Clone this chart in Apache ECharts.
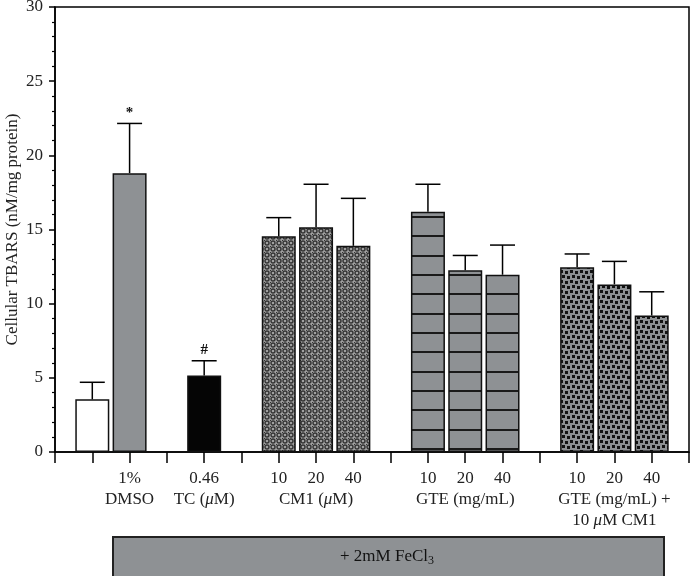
<!DOCTYPE html>
<html>
<head>
<meta charset="utf-8">
<script src="https://cdn.jsdelivr.net/npm/echarts@6/dist/echarts.min.js"></script>
<style>
html,body{margin:0;padding:0;background:#fff;}
#chart{width:690px;height:576px;}
</style>
</head>
<body>
<div id="chart"></div>
<script>
// ---- data ----
const categories = ['', '', '1%\nDMSO', '', '0.46\nTC (μM)', '', '10', '20\nCM1 (μM)', '40', '',
  '10', '20\nGTE (mg/mL)', '40', '', '10', '20\nGTE (mg/mL) +\n10 μM CM1', '40', ''];
const groups = ['', 'control', 'dmso', '', 'tc', '', 'cm1', 'cm1', 'cm1', '',
  'gte', 'gte', 'gte', '', 'gtecm1', 'gtecm1', 'gtecm1', ''];
const values = [null, 3.55, 18.8, null, 5.15, null, 14.55, 15.15, 13.9, null,
  16.2, 12.25, 11.95, null, 12.45, 11.3, 9.2, null];
const errors = [null, 1.15, 3.35, null, 1.0, null, 1.25, 2.9, 3.2, null,
  1.85, 1.0, 2.0, null, 0.9, 1.55, 1.6, null];
const marks = ['', '', '*', '', '#', '', '', '', '', '', '', '', '', '', '', '', '', ''];
const yTicks = [0, 5, 10, 15, 20, 25, 30];
const yName = 'Cellular TBARS (nM/mg protein)';
const boxText = '+ 2mM FeCl{sub|3}';

// ---- patterns ----
function makeCanvas(w, h, draw) {
  const c = document.createElement('canvas');
  c.width = w; c.height = h;
  draw(c.getContext('2d'));
  return c;
}
const cm1Pat = makeCanvas(6, 6, ctx => {
  ctx.fillStyle = '#a0a0a0'; ctx.fillRect(0, 0, 6, 6);
  ctx.strokeStyle = '#333'; ctx.lineWidth = 1.4;
  ctx.beginPath(); ctx.arc(3, 3, 2, 0, Math.PI * 2); ctx.stroke();
  ctx.fillStyle = '#333';
  ctx.fillRect(0, 0, 1, 1);
});
const gtePat = makeCanvas(4, 58, ctx => {
  ctx.fillStyle = '#8e9194'; ctx.fillRect(0, 0, 4, 58);
  ctx.fillStyle = '#1a1a1a';
  [4, 24, 43].forEach(y => ctx.fillRect(0, y - 1, 4, 2));
});
const gteCmPat = makeCanvas(10, 10, ctx => {
  ctx.fillStyle = '#8e9194'; ctx.fillRect(0, 0, 10, 10);
  ctx.fillStyle = '#111';
  [[0, 0], [5, 1], [2, 5], [7, 6]].forEach(p => ctx.fillRect(p[0], p[1], 3, 3));
});
const fills = {
  control: '#ffffff',
  dmso: '#8e9194',
  tc: '#050505',
  cm1: {image: cm1Pat, repeat: 'repeat'},
  gte: {image: gtePat, repeat: 'repeat'},
  gtecm1: {image: gteCmPat, repeat: 'repeat'}
};

const serif = '"Liberation Serif", "DejaVu Serif", serif';

const barData = values.map((v, i) => v == null ? null : {
  value: v,
  itemStyle: {color: fills[groups[i]], borderColor: '#111', borderWidth: 1.5}
});
const errData = [];
values.forEach((v, i) => { if (v != null) errData.push([i, v, errors[i]]); });

function fmtLabel(s) {
  return s.replace(/μ/g, '{i|μ}');
}

const chart = echarts.init(document.getElementById('chart'), null, {renderer: 'canvas'});
chart.setOption({
  animation: false,
  backgroundColor: '#fff',
  grid: {left: 55, right: 1, top: 7, bottom: 124, containLabel: false, outerBoundsMode: 'none',
    show: true, borderColor: '#000', borderWidth: 1.5, backgroundColor: 'transparent'},
  xAxis: {
    type: 'category',
    data: categories,
    boundaryGap: false,
    axisLine: {lineStyle: {color: '#000', width: 1.5}},
    axisTick: {show: true, length: 11, inside: false, lineStyle: {color: '#000', width: 1.5}, alignWithLabel: true},
    axisLabel: {
      interval: 0, margin: 16, color: '#222', fontFamily: serif, fontSize: 17, lineHeight: 21,
      hideOverlap: false,
      formatter: fmtLabel,
      rich: {i: {fontStyle: 'italic', fontFamily: serif, fontSize: 17, color: '#222', lineHeight: 21}}
    },
    splitLine: {show: false}
  },
  yAxis: {
    type: 'value', min: 0, max: 30, interval: 5,
    name: yName, nameLocation: 'middle', nameGap: 34, nameMoveOverlap: false,
    nameTextStyle: {fontFamily: serif, fontSize: 17, color: '#222'},
    axisLine: {show: true, lineStyle: {color: '#000', width: 1.5}},
    axisTick: {show: true, length: 6, lineStyle: {color: '#000', width: 1.5}},
    minorTick: {show: true, splitNumber: 5, length: 3, lineStyle: {color: '#000', width: 1.2}},
    axisLabel: {
      margin: 12, color: '#222', fontFamily: serif, fontSize: 17,
      formatter: v => yTicks.indexOf(v) >= 0 ? String(v) : ''
    },
    splitLine: {show: false}
  },
  series: [
    {
      type: 'bar',
      data: barData,
      barWidth: 34,
      z: 2
    },
    {
      type: 'custom',
      z: 3,
      data: errData,
      encode: {x: 0, y: 1},
      renderItem: function (params, api) {
        const i = api.value(0), v = api.value(1), e = api.value(2);
        const p0 = api.coord([i, v]);
        const p1 = api.coord([i, v + e]);
        const hw = 12.5;
        const style = {stroke: '#000', lineWidth: 1.5};
        const children = [
          {type: 'line', shape: {x1: p0[0], y1: p0[1], x2: p1[0], y2: p1[1]}, style: style},
          {type: 'line', shape: {x1: p1[0] - hw, y1: p1[1], x2: p1[0] + hw, y2: p1[1]}, style: style}
        ];
        const m = marks[i];
        if (m) {
          children.push({type: 'text', style: {text: m, x: p1[0], y: p1[1] - 3, align: 'center', verticalAlign: 'bottom',
            fill: '#111', font: 'bold 15px ' + serif}});
        }
        return {type: 'group', children: children};
      }
    }
  ],
  graphic: [
    {type: 'rect', left: 112, top: 536, shape: {width: 551, height: 42},
      style: {fill: '#8e9194', stroke: '#222', lineWidth: 2}},
    {type: 'text', x: 387, y: 557,
      style: {text: boxText, align: 'center', verticalAlign: 'middle', fill: '#111',
        font: '17px ' + serif,
        rich: {sub: {fontSize: 12, verticalAlign: 'bottom', padding: [8, 0, 0, 0], fontFamily: serif, fill: '#111'}}}}
  ]
});
</script>
</body>
</html>
